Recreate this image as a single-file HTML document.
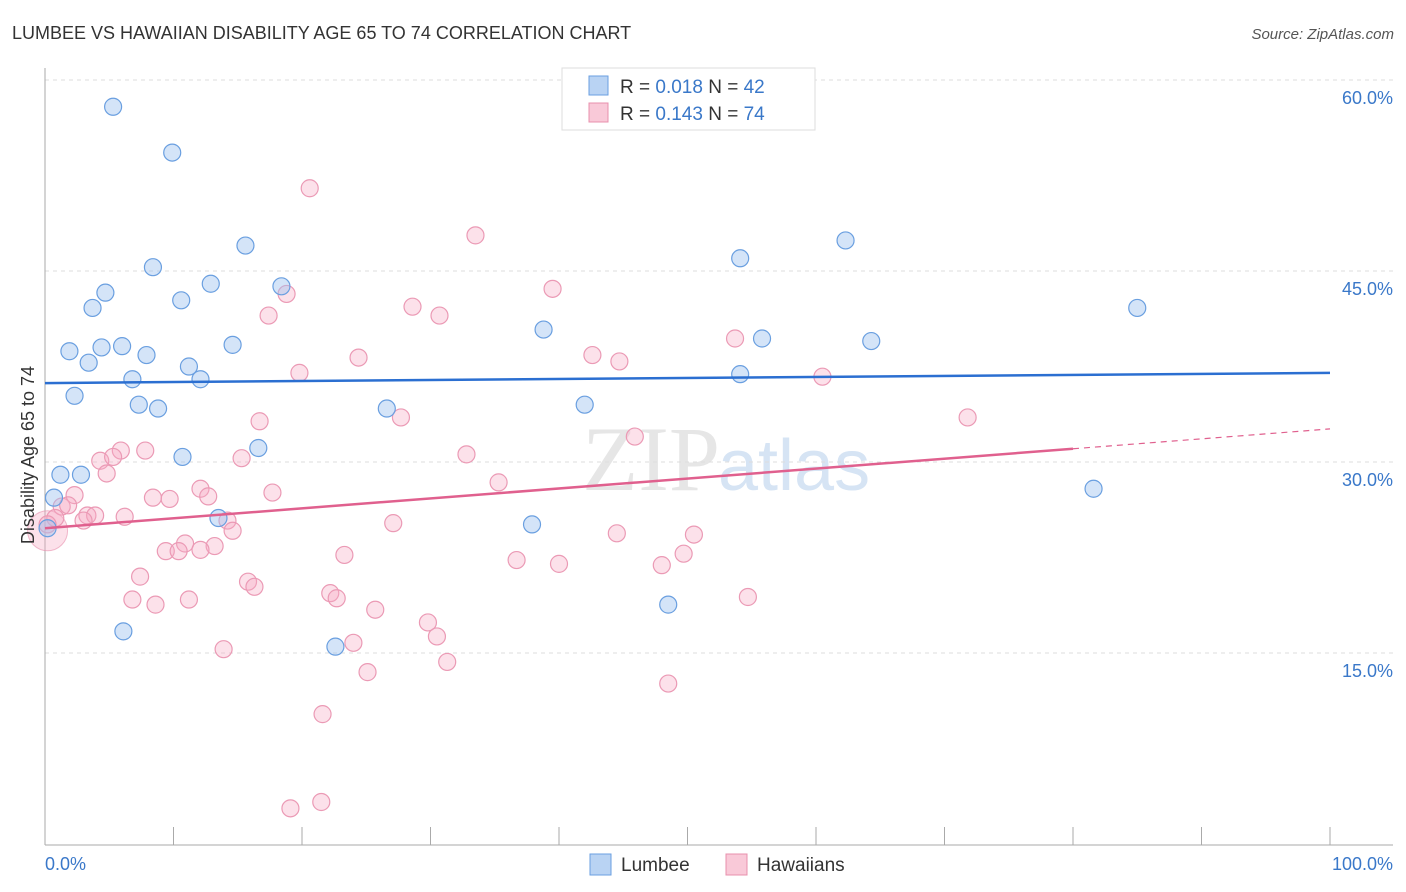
<!DOCTYPE html>
<html><head><meta charset="utf-8"><style>
body{margin:0;background:#fff;font-family:"Liberation Sans",sans-serif;}
svg{display:block}
</style></head><body>
<svg id="c" width="1406" height="892">
<text x="12" y="39" font-size="18" fill="#333">LUMBEE VS HAWAIIAN DISABILITY AGE 65 TO 74 CORRELATION CHART</text>
<text x="1394" y="39" font-size="15" fill="#555" font-style="italic" text-anchor="end">Source: ZipAtlas.com</text>
<text x="720" y="490" font-size="92" fill="#e6e6e6" text-anchor="end" font-family="Liberation Serif">ZIP</text>
<text x="718" y="490" font-size="72" fill="#d6e4f4">atlas</text>
<g id="grid"></g><g id="axes"></g><g id="marks"></g>
<text x="34" y="455" font-size="18" fill="#333" transform="rotate(-90 34 455)" text-anchor="middle">Disability Age 65 to 74</text>
<g>
<rect x="562" y="68" width="253" height="62" fill="#fff" stroke="#ddd"/>
<rect x="589" y="76" width="19" height="19" fill="#b9d3f3" stroke="#6a9fe0"/>
<rect x="589" y="103" width="19" height="19" fill="#f9c9d8" stroke="#e890ad"/>
<text x="620" y="93" font-size="19" fill="#333">R = <tspan fill="#3a78c9">0.018</tspan>   N = <tspan fill="#3a78c9">42</tspan></text>
<text x="620" y="120" font-size="19" fill="#333">R =  <tspan fill="#3a78c9">0.143</tspan>   N = <tspan fill="#3a78c9">74</tspan></text>
</g>
<g>
<rect x="590" y="854" width="21" height="21" fill="#b9d3f3" stroke="#6a9fe0"/>
<text x="621" y="871" font-size="19" fill="#333">Lumbee</text>
<rect x="726" y="854" width="21" height="21" fill="#f9c9d8" stroke="#e890ad"/>
<text x="757" y="871" font-size="19" fill="#333">Hawaiians</text>
</g>
</svg>
<script>
const yTicks=[15,30,45,60];
const yTickLabels=["15.0%","30.0%","45.0%","60.0%"];
const lumbeeX=[5.3,9.9,8.4,15.6,12.9,18.4,10.6,4.7,3.7,1.9,4.4,6.0,3.4,7.9,6.8,11.2,12.1,14.6,2.3,7.3,8.8,10.7,16.6,1.2,2.8,0.7,0.2,13.5,6.1,22.6,26.6,38.8,42.0,37.9,48.5,54.1,55.8,54.1,62.3,64.3,81.6,85.0];
const lumbeeY=[57.9,54.3,45.3,47.0,44.0,43.8,42.7,43.3,42.1,38.7,39.0,39.1,37.8,38.4,36.5,37.5,36.5,39.2,35.2,34.5,34.2,30.4,31.1,29.0,29.0,27.2,24.8,25.6,16.7,15.5,34.2,40.4,34.5,25.1,18.8,46.0,39.7,36.9,47.4,39.5,27.9,42.1];
const hawX=[20.6,33.5,39.5,18.8,17.4,28.6,30.7,53.7,42.6,44.7,24.4,19.8,60.5,71.8,16.7,27.7,45.9,32.8,35.3,5.9,7.8,4.3,5.3,4.8,15.3,12.1,12.7,8.4,9.7,17.7,2.3,1.3,1.8,3.3,3.9,6.2,3.0,0.8,0.2,14.2,14.6,27.1,44.5,50.5,10.9,13.2,9.4,10.4,12.1,23.3,49.7,36.7,40.0,48.0,7.4,15.8,16.3,6.8,8.6,11.2,22.2,22.7,54.7,25.7,29.8,30.5,13.9,24.0,31.3,25.1,48.5,21.6,21.5,19.1];
const hawY=[51.5,47.8,43.6,43.2,41.5,42.2,41.5,39.7,38.4,37.9,38.2,37.0,36.7,33.5,33.2,33.5,32.0,30.6,28.4,30.9,30.9,30.1,30.4,29.1,30.3,27.9,27.3,27.2,27.1,27.6,27.4,26.5,26.6,25.8,25.8,25.7,25.4,25.6,25.1,25.4,24.6,25.2,24.4,24.3,23.6,23.4,23.0,23.0,23.1,22.7,22.8,22.3,22.0,21.9,21.0,20.6,20.2,19.2,18.8,19.2,19.7,19.3,19.4,18.4,17.4,16.3,15.3,15.8,14.3,13.5,12.6,10.2,3.3,2.8];
const lumbeeTrend=[36.2,37.0];
const hawTrend=[24.8,32.6];
const hawTrendSolidEnd=80;
const NS="http://www.w3.org/2000/svg";
const X=v=>45+v*12.85, Y=v=>844-v*12.733;
function mk(t,a,p){const e=document.createElementNS(NS,t);for(const k in a)e.setAttribute(k,a[k]);p.appendChild(e);return e;}
const grid=document.getElementById('grid'),axes=document.getElementById('axes'),marks=document.getElementById('marks');
yTicks.forEach((t,i)=>{
 const l=mk('line',{x1:45,x2:1393,y1:Y(t),y2:Y(t),stroke:'#ddd','stroke-dasharray':'4,4'},grid);
 
 
 const tx=mk('text',{x:1393,y:Y(t)+24,'font-size':18,fill:'#3a78c9','text-anchor':'end'},grid);
 tx.textContent=yTickLabels[i];
 
 
});
const ax=mk('line',{x1:45,x2:45,y1:68,y2:845,stroke:'#aaa'},axes);


const bx=mk('line',{x1:45,x2:1393,y1:845,y2:845,stroke:'#aaa'},axes);


for(let i=0;i<=10;i++){const t=mk('line',{x1:X(i*10),x2:X(i*10),y1:827,y2:845,stroke:'#aaa'},axes);
 
 }
const x0=mk('text',{x:45,y:870,'font-size':18,fill:'#3a78c9'},axes);x0.textContent='0.0%';


const x1=mk('text',{x:1393,y:870,'font-size':18,fill:'#3a78c9','text-anchor':'end'},axes);x1.textContent='100.0%';


const big=mk('circle',{cx:X(0.2),cy:Y(24.6),r:20,fill:'rgba(245,170,195,0.35)',stroke:'rgba(232,144,173,0.6)'},marks);


hawX.forEach((x,i)=>{const c=mk('circle',{cx:X(x),cy:Y(hawY[i]),r:8.5,fill:'rgba(245,170,195,0.35)',stroke:'#eb9ab5','stroke-width':1.2},marks);
 
 });
lumbeeX.forEach((x,i)=>{const c=mk('circle',{cx:X(x),cy:Y(lumbeeY[i]),r:8.5,fill:'rgba(160,196,240,0.45)',stroke:'#6a9fe0','stroke-width':1.2},marks);
 
 });
const hy=x=>hawTrend[0]+(hawTrend[1]-hawTrend[0])*x/100;
const hl=mk('line',{x1:X(0),y1:Y(hy(0)),x2:X(hawTrendSolidEnd),y2:Y(hy(hawTrendSolidEnd)),stroke:'#e0608e','stroke-width':2.5},marks);


const hd=mk('line',{x1:X(hawTrendSolidEnd),y1:Y(hy(hawTrendSolidEnd)),x2:X(100),y2:Y(hy(100)),stroke:'#e0608e','stroke-width':1.2,'stroke-dasharray':'6,5'},marks);


const bl=mk('line',{x1:X(0),y1:Y(lumbeeTrend[0]),x2:X(100),y2:Y(lumbeeTrend[1]),stroke:'#2b6fd1','stroke-width':2.5},marks);


</script>
</body></html>
